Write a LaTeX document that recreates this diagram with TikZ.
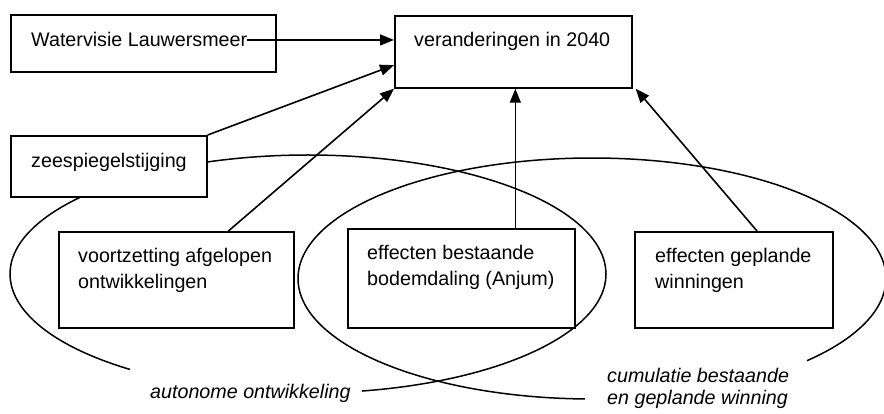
\documentclass[tikz,border=0pt]{standalone}
\usepackage{fontspec}
\setmainfont{Liberation Sans}
\usetikzlibrary{arrows.meta,calc}
\begin{document}
\begin{tikzpicture}[x=1pt,y=-1pt,
  box/.style={draw, line width=1.7pt, fill=white, inner sep=0pt, anchor=north west},
  txt/.style={inner sep=0pt, anchor=base west, font=\fontsize{19.7}{26}\selectfont},
  lbl/.style={inner sep=0pt, anchor=base west, font=\fontsize{19.7}{22}\selectfont\itshape},
  arr/.style={line width=1.6pt, -{Triangle[length=14pt,width=11pt]}},
  ell/.style={line width=1.5pt}]
\useasboundingbox (0,0) rectangle (884,414);
% ellipses
\draw[ell] ([shift={(126.7:298 and 119)}]308,274) arc[start angle=126.7, end angle=439.6, x radius=298, y radius=119];
\draw[ell] ([shift={(91.4:294 and 120.5)}]592,278.5) arc[start angle=91.4, end angle=403, x radius=294, y radius=120.5];
% boxes
\node[box, minimum width=265pt, minimum height=57pt] (wv) at (10,14) {};
\node[box, minimum width=237pt, minimum height=72pt] (ver) at (394,15) {};
\node[box, minimum width=196pt, minimum height=61pt] (zee) at (10,135) {};
\node[box, minimum width=235pt, minimum height=96pt] (voort) at (58,231) {};
\node[box, minimum width=227pt, minimum height=99pt] (best) at (347,228) {};
\node[box, minimum width=198pt, minimum height=96pt] (gep) at (634,231) {};
% texts
\node[txt] (wvt) at (31,47) {Watervisie Lauwersmeer};
\node[txt] (vert) at (414,47) {veranderingen in 2040};
\node[txt] (zeet) at (31,168) {zeespiegelstijging};
\node[txt] (voortt) at (78,263) {\begin{tabular}[t]{@{}l@{}}voortzetting afgelopen\\ontwikkelingen\end{tabular}};
\node[txt] (bestt) at (367,260) {\begin{tabular}[t]{@{}l@{}}effecten bestaande\\bodemdaling (Anjum)\end{tabular}};
\node[txt] (gept) at (655,263) {\begin{tabular}[t]{@{}l@{}}effecten geplande\\winningen\end{tabular}};
\node[lbl] (auto) at (150,398) {autonome ontwikkeling};
\node[lbl] (cumu) at (607,382) {\begin{tabular}[t]{@{}l@{}}cumulatie bestaande\\en geplande winning\end{tabular}};
% arrows
\draw[arr] (wvt.east) -- (wvt.east -| ver.west);
\draw[arr] (zee.north east) -- ($(ver.north west)!0.68!(ver.south west)$);
\draw[arr] ($(voort.north west)!0.72!(voort.north east)$) -- (ver.south west);
\coordinate (vs) at ([xshift=2pt]ver.south);
\draw[arr] (vs |- best.north) -- (vs);
\draw[arr] ($(gep.north west)!0.616!(gep.north east)$) -- ([xshift=3pt]ver.south east);
\end{tikzpicture}
\end{document}
